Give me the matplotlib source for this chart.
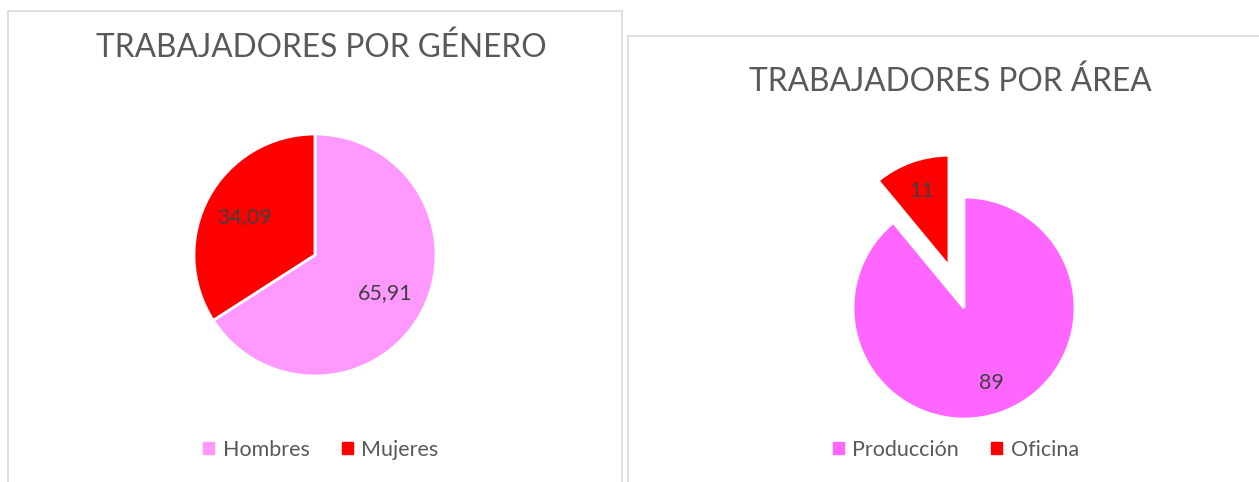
import matplotlib.pyplot as plt
from matplotlib.patches import Rectangle, Patch

# Data
generoLabels = ['Hombres', 'Mujeres']
generoValues = [65.91, 34.09]
generoColors = ['#FF99FF', '#FF0000']

areaLabels = ['Producción', 'Oficina']
areaValues = [89, 11]
areaColors = ['#FF66FF', '#FF0000']

W, H = 1259, 482
fig = plt.figure(figsize=(W / 100, H / 100), dpi=100)
plt.rcParams['font.family'] = ['Lato', 'DejaVu Sans']
textColor = '#595959'


def px_axes(cx, cy, half):
    # axes box in pixels (top-left origin) -> figure fraction
    return fig.add_axes([(cx - half) / W, 1 - (cy + half) / H, 2 * half / W, 2 * half / H])


def fmt_value(v):
    s = ('%.2f' % v).rstrip('0').rstrip('.')
    return s.replace('.', ',')


# Panel borders (open at the bottom edge)
fig.patches.append(Rectangle((8 / W, -0.05), 614 / W, 1.05 - 11 / H, transform=fig.transFigure,
                             fill=False, edgecolor='#D9D9D9', linewidth=1.2))
fig.patches.append(Rectangle((628 / W, -0.05), 640 / W, 1.05 - 36 / H, transform=fig.transFigure,
                             fill=False, edgecolor='#D9D9D9', linewidth=1.2))

# Left pie: genero
r1 = 121
ax1 = px_axes(315, 255, r1)
wedges1, texts1, autos1 = ax1.pie(generoValues, colors=generoColors, startangle=90, counterclock=False,
                                  autopct=lambda p: '', pctdistance=0.66,
                                  wedgeprops=dict(edgecolor='white', linewidth=2))
for a, v in zip(autos1, generoValues):
    a.set_text(fmt_value(v))
    a.set_color('#404040')
    a.set_fontsize(15.5)
ax1.set_xlim(-1, 1)
ax1.set_ylim(-1, 1)
ax1.set_aspect('equal')
fig.text(321 / W, 1 - 48 / H, 'TRABAJADORES POR GÉNERO', ha='center', va='center',
         fontsize=22.8, color=textColor)
fig.legend(handles=[Patch(color=c, label=l) for c, l in zip(generoColors, generoLabels)],
           loc='center', bbox_to_anchor=(321 / W, 1 - 450 / H), ncol=2, frameon=False,
           fontsize=15.5, labelcolor=textColor, handlelength=0.5, handleheight=0.5,
           handletextpad=0.4, columnspacing=1.5)

# Right pie: area
r2 = 111
ax2 = px_axes(964, 308, r2)
wedges2, texts2, autos2 = ax2.pie(areaValues, colors=areaColors, startangle=90, counterclock=False,
                                  explode=[0, 0.40], autopct=lambda p: '', pctdistance=0.72,
                                  wedgeprops=dict(edgecolor='white', linewidth=2))
for w in wedges2:
    w.set_clip_on(False)
for a, v in zip(autos2, areaValues):
    a.set_text(fmt_value(v))
    a.set_color('#404040')
    a.set_fontsize(15.5)
ax2.set_xlim(-1, 1)
ax2.set_ylim(-1, 1)
ax2.set_aspect('equal')
fig.text(950 / W, 1 - 82 / H, 'TRABAJADORES POR ÁREA', ha='center', va='center',
         fontsize=22.8, color=textColor)
fig.legend(handles=[Patch(color=c, label=l) for c, l in zip(areaColors, areaLabels)],
           loc='center', bbox_to_anchor=(956 / W, 1 - 450 / H), ncol=2, frameon=False,
           fontsize=15.5, labelcolor=textColor, handlelength=0.5, handleheight=0.5,
           handletextpad=0.4, columnspacing=1.5)

fig.savefig('out.png', dpi=100)
